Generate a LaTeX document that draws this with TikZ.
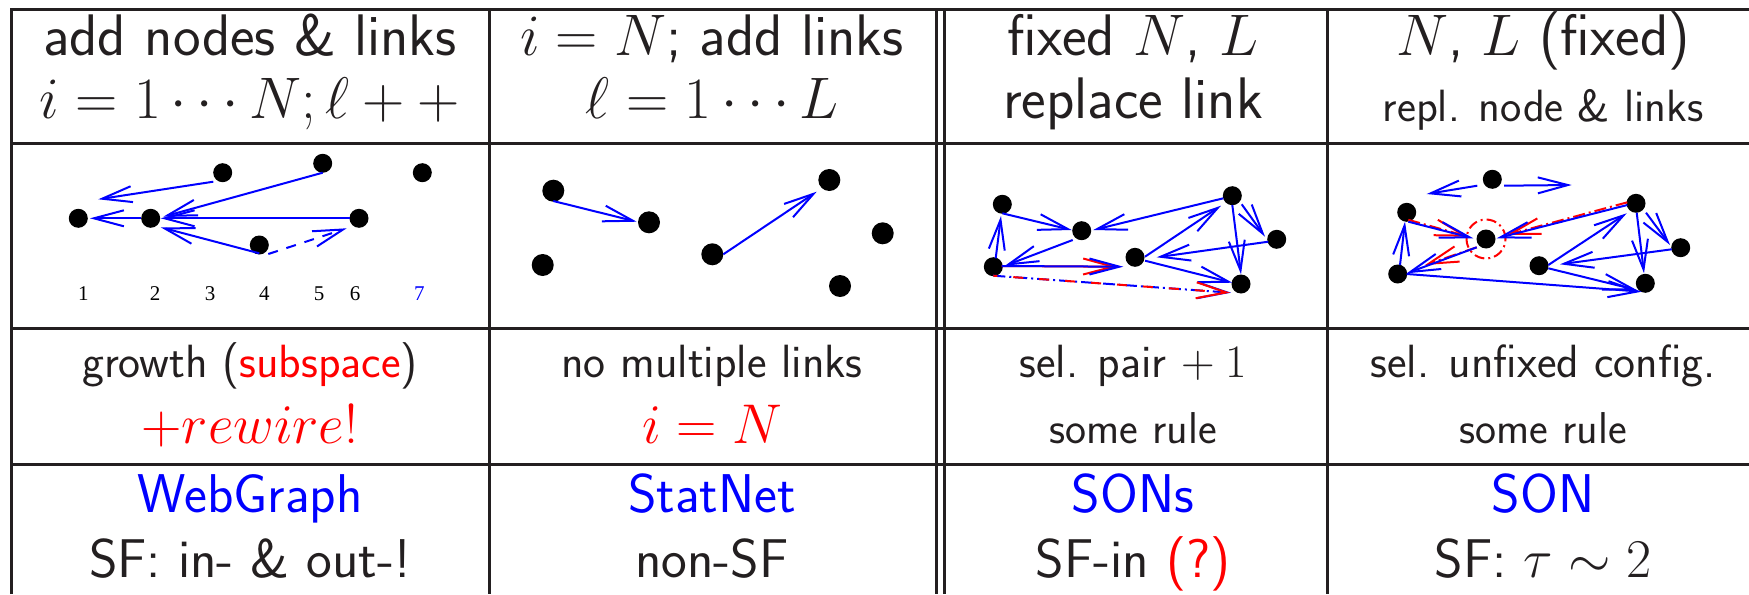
\documentclass[tikz,border=0pt]{standalone}
\usepackage{fix-cm}
\usepackage{fontspec}
\newfontfamily\timesf{Liberation Serif}
\usetikzlibrary{arrows.meta}
\definecolor{ink}{HTML}{231F20}
\definecolor{pblue}{RGB}{0,0,255}
\definecolor{pred}{RGB}{255,0,0}
\begin{document}
\begin{tikzpicture}[x=0.5pt,y=-0.5pt,
  grid/.style={draw=ink, line width=1.5pt},
  dot/.style={circle, fill=black, inner sep=0pt, minimum size=9.5pt},
  dotb/.style={dot, minimum size=11pt},
  arr/.style={draw=pblue, line width=1pt, -{Straight Barb[length=15pt,width=8pt]}},
  rarr/.style={draw=pred, line width=1pt, -{Straight Barb[length=15pt,width=8pt]}},
  txt/.style={anchor=base, inner sep=0pt, text=ink},
  big/.style={txt, font=\fontsize{29.3}{35}\selectfont\sffamily},
  mid/.style={txt, font=\fontsize{23.3}{28}\selectfont\sffamily},
  rul/.style={txt, font=\fontsize{22.3}{27}\selectfont\sffamily},
  sml/.style={txt, font=\fontsize{22.6}{27}\selectfont\sffamily},
  mth/.style={txt, text=pred, font=\fontsize{28}{34}\selectfont\sffamily},
  bot/.style={txt, font=\fontsize{27.3}{33}\selectfont\sffamily},
  num/.style={anchor=base, inner sep=0pt, font=\fontsize{10.5}{12}\selectfont\timesf},
  ring/.style={circle, draw=pred, line width=1pt, minimum size=19.5pt, inner sep=0pt,
    dash pattern=on 5pt off 2pt on 1pt off 2pt},
]
\useasboundingbox (0,0) rectangle (1749,594);

% table grid
\draw[grid] (11,594) -- (11,9.5) -- (1749,9.5);
\foreach \yy in {143,328,464} \draw[grid] (11,\yy) -- (1749,\yy);
\foreach \xx in {489,936,944,1327} \draw[grid] (\xx,9.5) -- (\xx,594);

% row 1
\node[big] (h1a) at (250,55) {add nodes \& links};
\node[big] (h1b) at (250,118) {$i=1\cdots N;\ell++$};
\node[big] (h2a) at (712,55) {$i=N$; add links};
\node[big] (h2b) at (712,118) {$\ell=1\cdots L$};
\node[big] (h3a) at (1133,55) {fixed $N$, $L$};
\node[big] (h3b) at (1133,118) {replace link};
\node[big] (h4a) at (1543,55) {$N$, $L$ (fixed)};
\node[sml] (h4b) at (1543,121) {repl. node \& links};

% row 3
\node[mid] (r1a) at (250,377) {growth (\textcolor{pred}{subspace})};
\node[mth] (r1b) at (250,443) {$+rewire!$};
\node[mid] (r2a) at (712,377) {no multiple links};
\node[mth] (r2b) at (712,443) {$i=N$};
\node[mid] (r3a) at (1133,377) {sel. pair $+\:1$};
\node[rul] (r3b) at (1133,443) {some rule};
\node[mid] (r4a) at (1543,377) {sel. unfixed config.};
\node[rul] (r4b) at (1543,443) {some rule};

% row 4
\node[bot, text=pblue] (b1a) at (250,512) {WebGraph};
\node[bot] (b1b) at (250,577) {SF: in- \& out-!};
\node[bot, text=pblue] (b2a) at (712,512) {StatNet};
\node[bot] (b2b) at (712,577) {non-SF};
\node[bot, text=pblue] (b3a) at (1133,512) {SONs};
\node[bot] (b3b) at (1133,577) {SF-in \textcolor{pred}{(?)}};
\node[bot, text=pblue] (b4a) at (1543,512) {SON};
\node[bot] (b4b) at (1543,577) {SF: $\tau\sim 2$};

% ---- column 1 graph
\node[dot] (n1) at (78.3,218.3) {};
\node[dot] (n2) at (150.7,218.3) {};
\node[dot] (n3) at (222.7,172.7) {};
\node[dot] (n4) at (259.3,245) {};
\node[dot] (n5) at (322.7,163.3) {};
\node[dot] (n6) at (359,218.3) {};
\node[dot] (n7) at (422.3,172.7) {};
\draw[arr] ([shift={(-9.4,9)}]n3.center) -- ([shift={(20,-19)}]n1.center);
\draw[arr] ([shift={(-9.7,0)}]n2.center) -- ([shift={(11.7,0)}]n1.center);
\draw[arr] ([shift={(0,9.4)}]n5.center) -- ([shift={(12.6,-1.6)}]n2.center);
\draw[arr] ([shift={(-9,0)}]n6.center) -- ([shift={(10,0)}]n2.center);
\draw[arr] ([shift={(0,8.3)}]n4.center) -- ([shift={(10,9)}]n2.center);
\draw[arr, dash pattern=on 5pt off 4.5pt] ([shift={(9,9)}]n4.center) -- ([shift={(-12.3,10)}]n6.center);
\node[num] (l1) at (83.3,300) {1};
\node[num] (l2) at (155,300) {2};
\node[num] (l3) at (210,300) {3};
\node[num] (l4) at (264.3,300) {4};
\node[num] (l5) at (319,300) {5};
\node[num] (l6) at (355,300) {6};
\node[num, text=pblue] (l7) at (419.3,300) {7};

% ---- column 2 graph
\node[dotb] (a) at (553.3,190.7) {};
\node[dotb] (b) at (649,222.3) {};
\node[dotb] (c) at (542.7,265) {};
\node[dotb] (d) at (712.3,254.3) {};
\node[dotb] (e) at (829.3,180) {};
\node[dotb] (f) at (882.7,233.3) {};
\node[dotb] (g) at (840,286) {};
\draw[arr] ([shift={(0,10.3)}]a.center) -- ([shift={(-12.3,-0.6)}]b.center);
\draw[arr] ([shift={(11,0)}]d.center) -- ([shift={(-12.6,11.7)}]e.center);

% ---- column 3 graph
\node[dot] (p1) at (1002.3,204.3) {};
\node[dot] (p2) at (1081.7,230.7) {};
\node[dot] (p3) at (993.3,266.7) {};
\node[dot] (p4) at (1135,257.3) {};
\node[dot] (p5) at (1232.3,195.7) {};
\node[dot] (p6) at (1276.7,239.3) {};
\node[dot] (p7) at (1241,284) {};
\draw[arr] ([shift={(0,9)}]p1.center) -- ([shift={(-10,-0.7)}]p2.center);
\draw[arr] ([shift={(2.4,-8.4)}]p3.center) -- ([shift={(-1.3,11.7)}]p1.center);
\draw[arr] ([shift={(-9,9.3)}]p2.center) -- ([shift={(11.7,-1)}]p3.center);
\draw[rarr] ([shift={(8.4,-0.7)}]p3.center) -- ([shift={(-18,9.4)}]p4.center);
\draw[arr] ([shift={(8.4,-0.7)}]p3.center) -- ([shift={(-11.7,9.4)}]p4.center);
\draw[arr] ([shift={(-9,2.6)}]p5.center) -- ([shift={(11.6,-0.7)}]p2.center);
\draw[arr] ([shift={(10,-0.6)}]p4.center) -- ([shift={(-11.3,10)}]p5.center);
\draw[arr] ([shift={(9.4,8.6)}]p5.center) -- ([shift={(-11.7,-2.6)}]p6.center);
\draw[arr] ([shift={(0,9.3)}]p5.center) -- ([shift={(0,-9.7)}]p7.center);
\draw[arr] ([shift={(-8.4,2.4)}]p6.center) -- ([shift={(21.7,0)}]p4.center);
\draw[arr] ([shift={(10,3.4)}]p4.center) -- ([shift={(-8.7,-1.3)}]p7.center);
\draw[arr, dash pattern=on 6pt off 2pt on 1pt off 2pt] ([shift={(0,9)}]p3.center) -- ([shift={(-10,8.7)}]p7.center);
\draw[rarr, dash pattern=on 5pt off 8pt, dash phase=3pt] ([shift={(0,9)}]p3.center) -- ([shift={(-11,8.7)}]p7.center);

% ---- column 4 graph
\node[dot] (q1) at (1492.3,179.3) {};
\node[dot] (q2) at (1406.7,212.3) {};
\node[dot] (q3) at (1486,239) {};
\node[dot] (q4) at (1397.7,274) {};
\node[dot] (q5) at (1636,203.3) {};
\node[dot] (q6) at (1539,265.7) {};
\node[dot] (q7) at (1680.7,247.7) {};
\node[dot] (q8) at (1645.3,283.3) {};
\node[ring] (q3r) at (q3) {};
\coordinate (q1l) at (1426.7,194);
\coordinate (q1r) at (1571.7,185);
\draw[arr] ([shift={(-15,6.4)}]q1.center) -- (q1l);
\draw[arr] ([shift={(11.7,6.4)}]q1.center) -- (q1r);
\draw[rarr, dash pattern=on 6pt off 2pt on 1pt off 2pt] ([shift={(1.6,7.5)}]q2.center) -- ([shift={(-17.7,-2.3)}]q3.center);
\draw[arr] ([shift={(1.6,9.4)}]q2.center) -- ([shift={(-12.7,-0.7)}]q3.center);
\draw[rarr, dash pattern=on 6pt off 2pt on 1pt off 2pt] ([shift={(-9.3,8.3)}]q3.center) -- ([shift={(27.3,-9)}]q4.center);
\draw[arr] ([shift={(-9.3,8.3)}]q3.center) -- ([shift={(9,-0.7)}]q4.center);
\draw[arr] ([shift={(2.3,-9)}]q4.center) -- ([shift={(-1.7,9.4)}]q2.center);
\draw[rarr, dash pattern=on 6pt off 2pt on 1pt off 2pt] ([shift={(-8.7,-1)}]q5.center) -- ([shift={(20.7,-4)}]q3.center);
\draw[arr] ([shift={(-8.7,1.7)}]q5.center) -- ([shift={(10.7,-0.7)}]q3.center);
\draw[arr] ([shift={(9,0)}]q4.center) -- ([shift={(-3.6,8.4)}]q8.center);
\draw[arr] ([shift={(9.3,-0.7)}]q6.center) -- ([shift={(-9.3,10)}]q5.center);
\draw[arr] ([shift={(10,9.4)}]q5.center) -- ([shift={(-10.7,-2.7)}]q7.center);
\draw[arr] ([shift={(0.7,9.4)}]q5.center) -- ([shift={(-1.3,-10)}]q8.center);
\draw[arr] ([shift={(-9,1.6)}]q7.center) -- ([shift={(21,-1.4)}]q6.center);
\draw[arr] ([shift={(9.3,2.6)}]q6.center) -- ([shift={(-8.6,6.7)}]q8.center);
\end{tikzpicture}
\end{document}
